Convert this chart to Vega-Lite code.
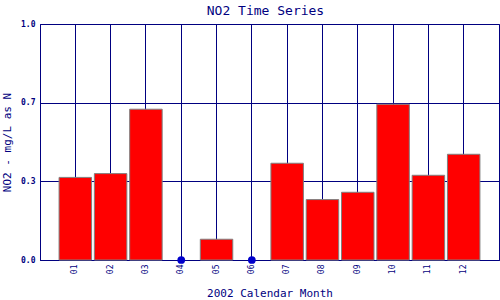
{
  "$schema": "https://vega.github.io/schema/vega-lite/v6.json",
  "width": 459,
  "height": 236,
  "autosize": {"type": "none"},
  "padding": {"left": 40, "top": 24, "right": 1, "bottom": 40},
  "background": "white",
  "title": {"text": "NO2 Time Series", "font": "DejaVu Sans Mono", "fontSize": 13, "fontWeight": "normal", "color": "#000080", "offset": 2, "dx": -4},
  "config": {
    "view": {"stroke": "#000080", "strokeWidth": 1},
    "axis": {
      "domainColor": "#000080",
      "gridColor": "#000080",
      "gridOpacity": 1,
      "gridWidth": 1,
      "labelColor": "#000080",
      "titleColor": "#000080",
      "labelFont": "DejaVu Sans Mono",
      "titleFont": "DejaVu Sans Mono",
      "ticks": false,
      "titleFontWeight": "normal"
    }
  },
  "data": {
    "values": [
      {"month": "01", "no2": 0.350},
      {"month": "02", "no2": 0.366},
      {"month": "03", "no2": 0.639},
      {"month": "04", "no2": 0},
      {"month": "05", "no2": 0.088},
      {"month": "06", "no2": 0},
      {"month": "07", "no2": 0.410},
      {"month": "08", "no2": 0.256},
      {"month": "09", "no2": 0.287},
      {"month": "10", "no2": 0.660},
      {"month": "11", "no2": 0.359},
      {"month": "12", "no2": 0.448}
    ]
  },
  "encoding": {
    "x": {
      "field": "month",
      "type": "nominal",
      "scale": {"domain": ["01","02","03","04","05","06","07","08","09","10","11","12"], "paddingInner": 0.08, "paddingOuter": 0.54},
      "axis": {"title": "2002 Calendar Month", "titleFontSize": 11, "titlePadding": 14, "labelAngle": -90, "labelFontSize": 8, "labelPadding": 4, "grid": true, "bandPosition": 0.5}
    },
    "y": {
      "field": "no2",
      "type": "quantitative",
      "scale": {"domain": [0, 1], "nice": false},
      "axis": {"title": "NO2 - mg/L as N", "titleFontSize": 11, "titlePadding": 8, "values": [0, 0.3333, 0.6667, 1], "format": ".1f", "labelFontSize": 8, "labelFontWeight": "bold", "labelPadding": 5, "grid": true}
    }
  },
  "layer": [
    {
      "transform": [{"filter": "datum.no2 > 0"}],
      "mark": {"type": "bar", "fill": "#FF0000", "stroke": "#808080", "strokeWidth": 1}
    },
    {
      "transform": [{"filter": "datum.no2 == 0"}],
      "mark": {"type": "point", "filled": true, "color": "#0000CC", "size": 60, "opacity": 1}
    }
  ]
}
